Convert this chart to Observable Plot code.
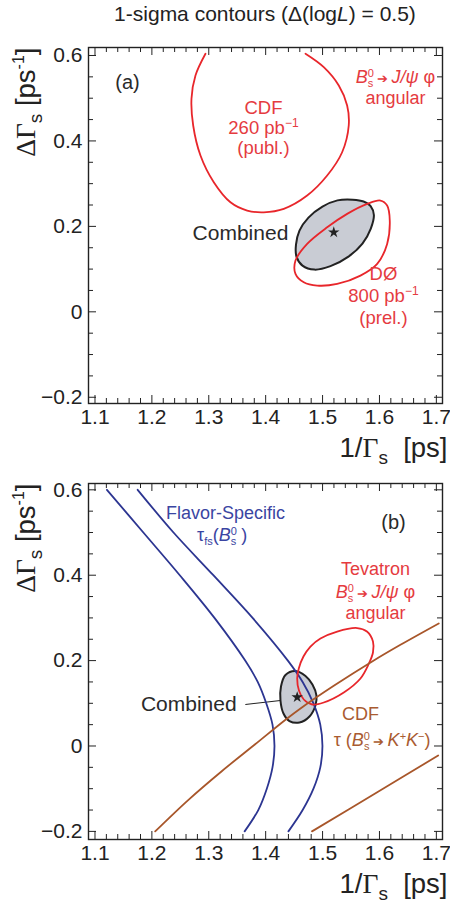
<!DOCTYPE html>
<html><head><meta charset="utf-8">
<script src="https://cdn.jsdelivr.net/npm/d3@7"></script>
<script src="https://cdn.jsdelivr.net/npm/@observablehq/plot@0.6"></script>
<style>
body{margin:0;background:#fff;width:450px;font-family:"Liberation Sans",Arial,sans-serif;color:#222;}
#title{height:36px;box-sizing:border-box;padding:2px 0 0 80px;text-align:center;font-size:21px;line-height:24px;}
svg{display:block;}
</style></head><body>
<div id="title">1-sigma contours (Δ(log<i>L</i>) = 0.5)</div>
<div id="pa"></div><div id="pb"></div>
<script>
// ---------- axes ----------
const xDomain = [1.0886, 1.7108];
const yDomainA = [-0.2146, 0.6187];
const yDomainB = [-0.219, 0.6148];
const xMajor = [1.1, 1.2, 1.3, 1.4, 1.5, 1.6, 1.7];
const xMinor = [1.12,1.14,1.16,1.18,1.22,1.24,1.26,1.28,1.32,1.34,1.36,1.38,1.42,1.44,1.46,1.48,1.52,1.54,1.56,1.58,1.62,1.64,1.66,1.68];
const yMajor = [-0.2, 0, 0.2, 0.4, 0.6];
const yMinor = [-0.15,-0.1,-0.05,0.05,0.1,0.15,0.25,0.3,0.35,0.45,0.5,0.55];

// ---------- panel (a) ----------
const cdfA = [[1.2942,0.604],[1.2766,0.5532],[1.2696,0.4986],[1.2726,0.4361],[1.2854,0.3658],[1.3088,0.3033],[1.3381,0.2564],[1.3675,0.237],[1.3967,0.233],[1.4318,0.241],[1.4729,0.2721],[1.5081,0.319],[1.5344,0.3735],[1.546,0.4361],[1.5432,0.4829],[1.5285,0.5297],[1.5021,0.5726],[1.47,0.604]];
const combinedA = [[1.553,0.2626],[1.5722,0.2583],[1.5845,0.2475],[1.5902,0.2265],[1.5848,0.1948],[1.5701,0.1597],[1.5455,0.1293],[1.5139,0.107],[1.4857,0.0988],[1.4647,0.1082],[1.4541,0.1293],[1.4533,0.1574],[1.4594,0.1902],[1.4752,0.2206],[1.4998,0.2464],[1.5262,0.2609]];
const d0A = [[1.6018,0.2604],[1.6135,0.2487],[1.6181,0.2136],[1.6135,0.159],[1.596,0.1122],[1.5666,0.0848],[1.5257,0.0653],[1.4905,0.0614],[1.467,0.0691],[1.4524,0.0888],[1.4524,0.1199],[1.4729,0.159],[1.5081,0.1979],[1.5432,0.2293],[1.5784,0.2527]];
const starA = [[1.5197,0.1862]];

// ---------- panel (b) ----------
const fsLeft = [[1.121,0.6],[1.185,0.5],[1.249,0.4],[1.31,0.3],[1.364,0.2],[1.386,0.15],[1.401,0.1],[1.412,0.05],[1.4155,0],[1.412,-0.05],[1.402,-0.1],[1.387,-0.15],[1.363,-0.2]];
const fsRight = [[1.175,0.6],[1.238,0.5],[1.308,0.4],[1.377,0.3],[1.439,0.2],[1.465,0.15],[1.484,0.1],[1.496,0.05],[1.4998,0],[1.496,-0.05],[1.484,-0.1],[1.465,-0.15],[1.44,-0.2]];
const kkUpper = [[1.2058,-0.2],[1.2643,-0.126],[1.3228,-0.059],[1.3815,0.004],[1.4343,0.061],[1.4612,0.088],[1.5197,0.141],[1.5872,0.198],[1.6369,0.237],[1.7042,0.287]];
const kkLower = [[1.4814,-0.2],[1.5924,-0.1112],[1.7032,-0.0223]];
const tevB = [[1.4554,0.1581],[1.4582,0.1815],[1.4664,0.2096],[1.4787,0.233],[1.4963,0.2518],[1.5257,0.2681],[1.5608,0.2763],[1.578,0.2681],[1.5886,0.2447],[1.5886,0.219],[1.5807,0.1909],[1.5666,0.1581],[1.5373,0.1253],[1.5021,0.1019],[1.4817,0.0972],[1.467,0.1089],[1.4585,0.13]];
const combinedB = [[1.4524,0.1756],[1.47,0.1639],[1.4822,0.144],[1.4892,0.1183],[1.4875,0.0949],[1.477,0.0691],[1.4594,0.055],[1.4418,0.0585],[1.4313,0.0761],[1.426,0.1066],[1.4269,0.1393],[1.4348,0.1663]];
const starB = [[1.4554,0.1143]];
const pointerB = [{x1:1.3642, y1:0.0973, x2:1.426, y2:0.1066}];

// ---------- labels ----------
const labelsA = [
  {x:1.1571, y:0.5368, t:"(a)", c:"dark", s:20},
  {x:1.3961, y:0.4759, t:"CDF", c:"red", s:18.5},
  {x:1.3961, y:0.429, t:"K260", c:"red", s:18.5},
  {x:1.3961, y:0.3822, t:"(publ.)", c:"red", s:18.5},
  {x:1.6281, y:0.5495, t:"KBJPSI", c:"red", s:18},
  {x:1.6281, y:0.5006, t:"angular", c:"red", s:18},
  {x:1.3557, y:0.1831, t:"Combined", c:"dark", s:21},
  {x:1.607, y:0.0895, t:"DØ", c:"red", s:18.5},
  {x:1.607, y:0.0379, t:"K800", c:"red", s:18.5},
  {x:1.607, y:-0.0136, t:"(prel.)", c:"red", s:18.5}
];
const labelsB = [
  {x:1.3293, y:0.5448, t:"Flavor-Specific", c:"blue", s:18},
  {x:1.3235, y:0.4935, t:"KTAUFS", c:"blue", s:18},
  {x:1.6246, y:0.5234, t:"(b)", c:"dark", s:20},
  {x:1.593, y:0.4135, t:"Tevatron", c:"red", s:18},
  {x:1.593, y:0.3602, t:"KBJPSI", c:"red", s:18},
  {x:1.593, y:0.3100, t:"angular", c:"red", s:18},
  {x:1.2648, y:0.0988, t:"Combined", c:"dark", s:21},
  {x:1.5666, y:0.0754, t:"CDF", c:"brown", s:18},
  {x:1.6047, y:0.0129, t:"KTAUKK", c:"brown", s:18}
];

const COL = {red:"#e8262b", redText:"#e53b3f", blue:"#2c3591", blueText:"#3a45a2", brown:"#a8562a", brownText:"#a95b31", dark:"#222", fill:"#c9ccd4"};
const textColor = {red: COL.redText, blue: COL.blueText, brown: COL.brownText, dark: "#2a2a2a"};

const sup0s = (fs) => `<tspan font-size="${fs}" dy="-6">0</tspan><tspan font-size="${fs}" dx="-${(fs*0.556).toFixed(1)}" dy="10">s</tspan>`;
const RICH = {
  "K260": `260 pb<tspan font-size="12" dy="-7">−1</tspan>`,
  "K800": `800 pb<tspan font-size="12" dy="-7">−1</tspan>`,
  "KBJPSI": `<tspan font-style="italic">B</tspan>${sup0s(11)}<tspan dy="-4" font-size="13"> ➔ </tspan><tspan font-style="italic">J/ψ</tspan> φ`,
  "KTAUFS": `τ<tspan font-size="11" dy="4">fs</tspan><tspan dy="-4">(</tspan><tspan font-style="italic">B</tspan>${sup0s(11)}<tspan dy="-4"> )</tspan>`,
  "KTAUKK": `τ (<tspan font-style="italic">B</tspan>${sup0s(11)}<tspan dy="-4" font-size="13"> ➔ </tspan><tspan font-style="italic">K</tspan><tspan font-size="11" dy="-6">+</tspan><tspan font-style="italic" dy="6">K</tspan><tspan font-size="11" dy="-6">−</tspan><tspan dy="6">)</tspan>`,
  "XTITLE": `1/<tspan font-family="Liberation Serif, DejaVu Serif, serif">Γ</tspan><tspan font-size="19" dy="7">s</tspan><tspan dy="-7">\u00a0\u00a0[ps]</tspan>`,
  "YTITLE": `<tspan font-family="Liberation Serif, DejaVu Serif, serif">ΔΓ</tspan><tspan font-size="19" dy="7">s</tspan><tspan dy="-7">\u00a0[ps</tspan><tspan font-size="16" dy="-11">-1</tspan><tspan dy="11">]</tspan>`
};

const fmtX = d => d.toFixed(1);
const fmtY = d => d === 0 ? "0" : (d < 0 ? "−" + Math.abs(d).toFixed(1) : d.toFixed(1));

function frameMarks(fw, fh) {
  return [
    Plot.frame({stroke: COL.dark, strokeWidth: 1.4}),
    Plot.tickX(xMajor, {insetTop: fh - 8, stroke: COL.dark}),
    Plot.tickX(xMinor, {insetTop: fh - 5, stroke: COL.dark}),
    Plot.tickX(xMajor, {insetBottom: fh - 8, stroke: COL.dark}),
    Plot.tickX(xMinor, {insetBottom: fh - 5, stroke: COL.dark}),
    Plot.tickY(yMajor, {insetRight: fw - 8, stroke: COL.dark}),
    Plot.tickY(yMinor, {insetRight: fw - 5, stroke: COL.dark}),
    Plot.tickY(yMajor, {insetLeft: fw - 8, stroke: COL.dark}),
    Plot.tickY(yMinor, {insetLeft: fw - 5, stroke: COL.dark}),
    Plot.axisX({ticks: xMajor, tickSize: 0, tickPadding: 6, tickFormat: fmtX, fontSize: 21, label: null}),
    Plot.axisY({ticks: yMajor, tickSize: 0, tickPadding: 6, tickFormat: fmtY, fontSize: 21, label: null}),
    Plot.text(["XTITLE"], {frameAnchor: "bottom-right", text: d => d, textAnchor: "end", lineAnchor: "middle", dx: 5, dy: 45, fontSize: 27.5, fill: COL.dark}),
    Plot.text(["YTITLE"], {frameAnchor: "top-left", text: d => d, rotate: -90, textAnchor: "end", lineAnchor: "middle", dx: -62, dy: 0, fontSize: 27.5, fill: COL.dark})
  ];
}
function labelMarks(labels) {
  return [Plot.text(labels, {x: "x", y: "y", text: "t", fill: d => textColor[d.c], fontSize: d => d.s, lineAnchor: "middle"})];
}
const P = d => d[0], Q = d => d[1];
const W = 450, ML = 88, MR = 8, FH = 356;
const FW = W - ML - MR;

function make(yDomain, marginTop, marginBottom, marks) {
  const svg = Plot.plot({
    width: W, height: marginTop + FH + marginBottom,
    marginLeft: ML, marginRight: MR, marginTop, marginBottom,
    x: {domain: xDomain}, y: {domain: yDomain},
    style: {fontFamily: "Liberation Sans, Arial, sans-serif", fontSize: "19px", color: COL.dark, background: "transparent", overflow: "visible"},
    marks
  });
  svg.querySelectorAll("text").forEach(t => { const h = RICH[t.textContent]; if (h) t.innerHTML = h; });
  return svg;
}

const svgA = make(yDomainA, 11, 48, [
  ...frameMarks(FW, FH),
  Plot.line(cdfA, {x: P, y: Q, stroke: COL.red, strokeWidth: 1.8, curve: "catmull-rom"}),
  Plot.line(combinedA, {x: P, y: Q, stroke: COL.dark, fill: COL.fill, strokeWidth: 2, curve: "catmull-rom-closed"}),
  Plot.line(d0A, {x: P, y: Q, stroke: COL.red, strokeWidth: 1.8, curve: "catmull-rom-closed"}),
  Plot.dot(starA, {x: P, y: Q, symbol: "star", r: 3.6, fill: COL.dark, stroke: null}),
  ...labelMarks(labelsA)
]);
document.getElementById("pa").appendChild(svgA);

const svgB = make(yDomainB, 32, 64, [
  ...frameMarks(FW, FH),
  Plot.line(combinedB, {x: P, y: Q, stroke: COL.dark, fill: COL.fill, strokeWidth: 2, curve: "catmull-rom-closed"}),
  Plot.link(pointerB, {x1: "x1", y1: "y1", x2: "x2", y2: "y2", stroke: COL.dark, strokeWidth: 1.1}),
  Plot.line(fsLeft, {x: P, y: Q, stroke: COL.blue, strokeWidth: 1.8, curve: "catmull-rom"}),
  Plot.line(fsRight, {x: P, y: Q, stroke: COL.blue, strokeWidth: 1.8, curve: "catmull-rom"}),
  Plot.line(tevB, {x: P, y: Q, stroke: COL.red, strokeWidth: 1.8, curve: "catmull-rom-closed"}),
  Plot.line(kkUpper, {x: P, y: Q, stroke: COL.brown, strokeWidth: 1.8, curve: "catmull-rom"}),
  Plot.line(kkLower, {x: P, y: Q, stroke: COL.brown, strokeWidth: 1.8, curve: "catmull-rom"}),
  Plot.dot(starB, {x: P, y: Q, symbol: "star", r: 3.6, fill: COL.dark, stroke: null}),
  ...labelMarks(labelsB)
]);
document.getElementById("pb").appendChild(svgB);
</script>
</body></html>
